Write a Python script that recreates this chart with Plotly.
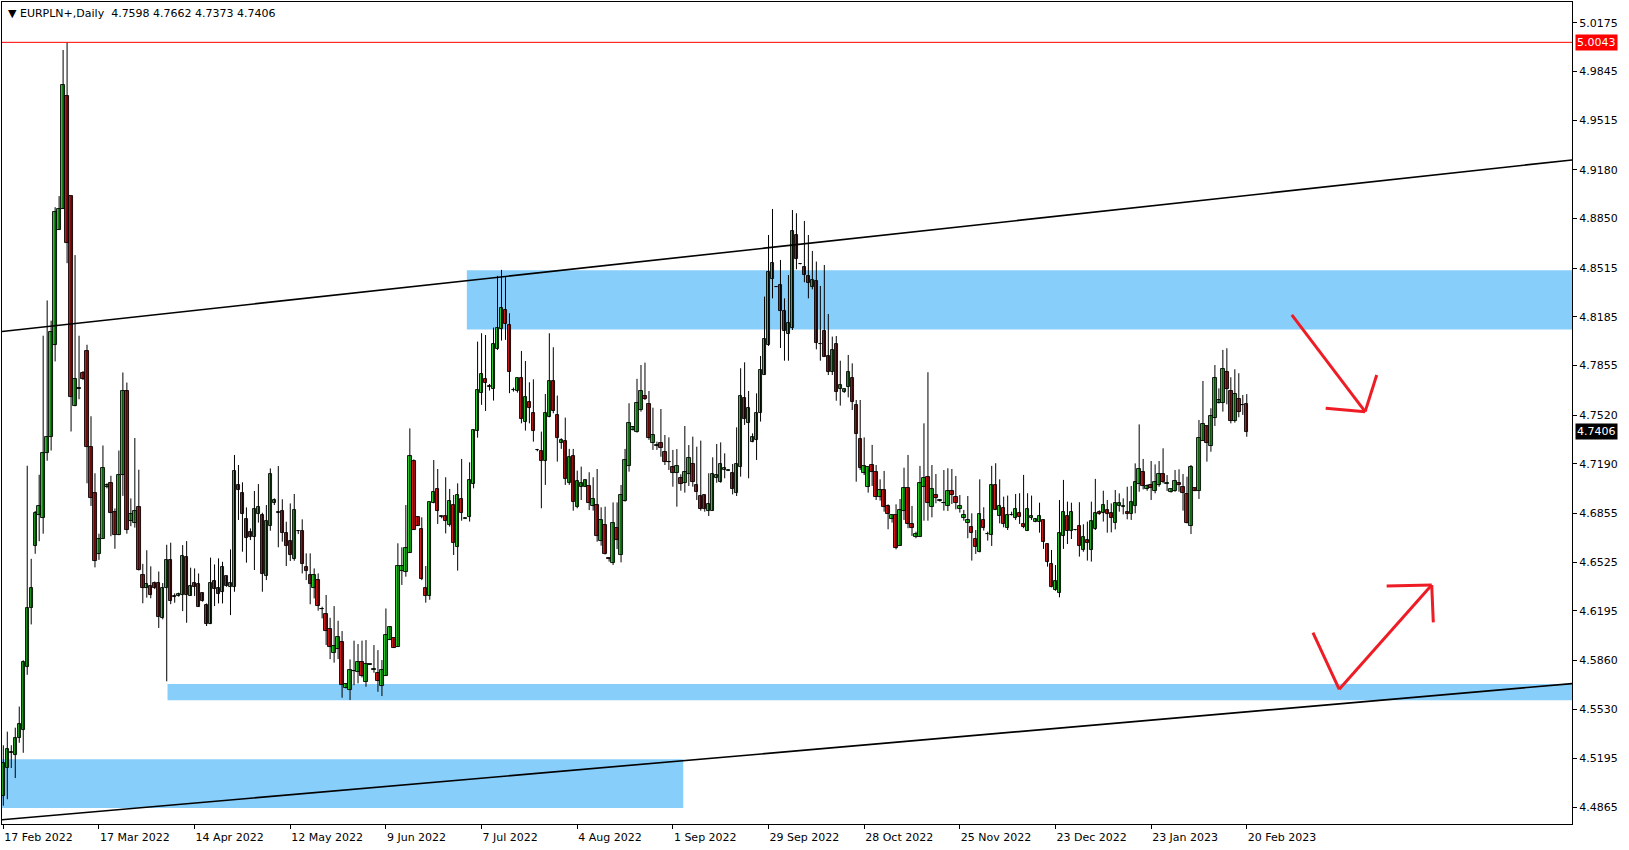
import plotly.graph_objects as go

# ---------------- data (daily bars, incl. Sunday bars) ----------------
opens = [4.4944,4.5131,4.5240,4.5217,4.5336,4.5387,4.5813,4.6212,4.6632,4.6843,
4.6826,4.7263,4.7372,4.7996,4.8773,4.8916,4.9677,4.9002,4.7580,4.7699,
4.7808,4.7955,4.7304,4.6990,4.6581,4.6683,4.7031,4.7058,4.6864,4.6707,
4.7116,4.7682,4.6802,4.6792,4.6898,4.6437,4.6349,4.6366,4.6386,4.6383,
4.6144,4.6349,4.6540,4.6293,4.6295,4.6304,4.6559,4.6297,4.6381,4.6376,
4.6313,4.6234,4.6105,4.6397,4.6347,4.6324,4.6430,4.6358,4.6354,4.7047,
4.6990,4.6814,4.6726,4.6697,4.6848,4.6843,4.6433,4.6769,4.6927,4.6859,
4.6871,4.6719,4.6667,4.6546,4.6735,4.6735,4.6489,4.6437,4.6347,4.6403,
4.6207,4.6173,4.6069,4.5911,4.5936,4.5984,4.5674,4.5659,4.5789,4.5783,
4.5846,4.5710,4.5832,4.5798,4.5771,4.5688,4.5756,4.5997,4.6008,4.5952,
4.6467,4.6460,4.6588,4.7211,4.6828,4.6749,4.6347,4.6297,4.6927,4.7020,
4.6832,4.6837,4.6776,4.6911,4.6629,4.6952,4.6821,4.6828,4.7051,4.7415,
4.7672,4.7764,4.7713,4.7695,4.7968,4.8101,4.8232,4.8130,4.7690,4.7686,
4.7769,4.7471,4.7607,4.7532,4.7284,4.7279,4.7212,4.7505,4.7751,4.7521,
4.7334,4.7345,4.7058,4.7243,4.6896,4.7036,4.7036,4.7040,4.6905,4.6911,
4.6668,4.6776,4.6550,4.6516,4.6758,4.6573,4.6941,4.7178,4.7419,4.7408,
4.7555,4.7649,4.7593,4.7328,4.7313,4.7329,4.7268,4.7200,4.7166,4.7130,
4.7092,4.7062,4.7119,4.7187,4.7047,4.6972,4.6979,4.6873,4.6873,4.7092,
4.7069,4.7148,4.7144,4.7126,4.6995,4.7171,4.7633,4.7464,4.7336,4.7351,
4.7532,4.7791,4.7995,4.8439,4.8389,4.8398,4.8227,4.8069,4.8107,4.8739,
4.8543,4.8520,4.8462,4.8385,4.8430,4.8001,4.8089,4.7920,4.7814,4.8001,
4.7694,4.7679,4.7708,4.7769,4.7588,4.7358,4.7130,4.7036,4.7182,4.7133,
4.6963,4.7013,4.6905,4.6814,4.6844,4.6636,4.6873,4.7029,4.6783,4.6697,
4.6697,4.7031,4.7099,4.6896,4.6979,4.6941,4.6923,4.6905,4.7006,4.6963,
4.6882,4.6821,4.6792,4.6760,4.6681,4.6591,4.6810,4.6713,4.6708,4.7047,
4.6839,4.6889,4.6754,4.6844,4.6826,4.6855,4.6783,4.6738,4.6821,4.6799,
4.6799,4.6810,4.6647,4.6512,4.6336,4.6313,4.6704,4.6837,4.6738,4.6742,
4.6769,4.6607,4.6675,4.6607,4.6747,4.6866,4.6855,4.6877,4.6855,4.6791,
4.6907,4.6898,4.6866,4.6848,4.6907,4.7051,4.7132,4.7017,4.7047,4.7008,
4.7047,4.7119,4.7058,4.6997,4.7006,4.7058,4.7031,4.6983,4.6771,4.7024,
4.7008,4.7347,4.7446,4.7313,4.7503,4.7600,4.7604,4.7809,4.7683,4.7482,
4.7627,4.7588,4.7598]
highs = [4.5285,4.5377,4.5285,4.5404,4.5547,4.5860,4.7177,4.6547,4.6871,4.7116,
4.8057,4.8296,4.8159,4.8927,4.9002,4.9991,5.0043,4.9002,4.8603,4.8057,
4.7818,4.7996,4.7512,4.7126,4.6717,4.7314,4.7058,4.7109,4.6888,4.7280,
4.7808,4.7740,4.6956,4.7365,4.7150,4.6513,4.6605,4.6496,4.6393,4.6461,
4.6383,4.6642,4.6656,4.6313,4.6318,4.6640,4.6667,4.6487,4.6482,4.6448,
4.6318,4.6245,4.6555,4.6509,4.6550,4.6527,4.6430,4.6611,4.7250,4.7182,
4.7065,4.6895,4.6753,4.7006,4.7053,4.6859,4.6911,4.7159,4.6956,4.7175,
4.6950,4.6798,4.6922,4.6986,4.6736,4.6814,4.6584,4.6584,4.6482,4.6448,
4.6223,4.6302,4.6148,4.6227,4.6128,4.6058,4.5704,4.5866,4.5993,4.5970,
4.5993,4.5997,4.5834,4.5963,4.5929,4.5862,4.6211,4.6092,4.6010,4.6652,
4.6625,4.6911,4.7430,4.7220,4.6830,4.6828,4.6498,4.6929,4.7216,4.7155,
4.6839,4.7099,4.7020,4.6979,4.7058,4.7223,4.6822,4.7200,4.7419,4.8017,
4.8074,4.8062,4.7731,4.8112,4.8462,4.8503,4.8453,4.8209,4.7706,4.7769,
4.7954,4.7886,4.7742,4.7762,4.7291,4.7408,4.7663,4.8074,4.7979,4.7652,
4.7363,4.7503,4.7291,4.7291,4.7144,4.7171,4.7081,4.7133,4.7099,4.7155,
4.6896,4.6900,4.6552,4.6929,4.6929,4.7047,4.7291,4.7600,4.7446,4.7765,
4.7859,4.7875,4.7683,4.7570,4.7340,4.7561,4.7385,4.7369,4.7284,4.7290,
4.7119,4.7446,4.7317,4.7374,4.7306,4.7347,4.6979,4.7126,4.7234,4.7324,
4.7335,4.7261,4.7146,4.7189,4.7437,4.7837,4.7877,4.7683,4.7396,4.7667,
4.7920,4.8322,4.8739,4.8915,4.8391,4.8570,4.8310,4.8468,4.8908,4.8886,
4.8545,4.8834,4.8739,4.8631,4.8559,4.8394,4.8536,4.8204,4.8051,4.8055,
4.7888,4.7696,4.7927,4.7870,4.7622,4.7622,4.7369,4.7167,4.7318,4.7182,
4.7085,4.7142,4.6916,4.6844,4.6916,4.6952,4.7164,4.7250,4.6905,4.6731,
4.7176,4.7464,4.7810,4.7182,4.7121,4.6952,4.7148,4.7160,4.7155,4.7108,
4.6979,4.6878,4.6972,4.6855,4.6742,4.7085,4.6896,4.6731,4.7176,4.7194,
4.7085,4.6968,4.6975,4.6866,4.6986,4.6991,4.7115,4.6991,4.6975,4.6822,
4.6927,4.6812,4.6650,4.6607,4.6505,4.6945,4.7081,4.6934,4.6927,4.6744,
4.6930,4.6781,4.6799,4.6934,4.7088,4.6875,4.7008,4.6945,4.6922,4.7013,
4.6990,4.6956,4.7035,4.7040,4.7193,4.7457,4.7223,4.7051,4.7209,4.7186,
4.7209,4.7295,4.7114,4.7019,4.7148,4.7153,4.7121,4.7103,4.7182,4.7026,
4.7487,4.7751,4.7448,4.7566,4.7859,4.7701,4.7961,4.7972,4.7776,4.7830,
4.7803,4.7656,4.7662]
lows = [4.4876,4.4920,4.5131,4.5063,4.5302,4.5234,4.5762,4.6103,4.6581,4.6666,
4.6717,4.7211,4.7280,4.7883,4.8773,4.8916,4.8548,4.7409,4.7580,4.7627,
4.7757,4.7058,4.6905,4.6489,4.6540,4.6683,4.7024,4.6700,4.6615,4.6707,
4.6973,4.6717,4.6768,4.6758,4.6468,4.6246,4.6284,4.6280,4.6342,4.6079,
4.6137,4.5718,4.6240,4.6250,4.6291,4.6193,4.6114,4.6297,4.6295,4.6223,
4.6257,4.6092,4.6105,4.6227,4.6245,4.6245,4.6358,4.6166,4.6324,4.6810,
4.6595,4.6521,4.6674,4.6471,4.6792,4.6324,4.6403,4.6737,4.6911,4.6625,
4.6663,4.6498,4.6532,4.6534,4.6715,4.6448,4.6403,4.6239,4.6279,4.6196,
4.6144,4.5963,4.5868,4.5844,4.5868,4.5607,4.5670,4.5591,4.5692,4.5704,
4.5744,4.5681,4.5830,4.5776,4.5647,4.5618,4.5756,4.5997,4.5945,4.5952,
4.6370,4.6426,4.6588,4.6742,4.6769,4.6403,4.6250,4.6270,4.6923,4.6783,
4.6821,4.6719,4.6765,4.6573,4.6467,4.6805,4.6820,4.6799,4.7024,4.7367,
4.7589,4.7548,4.7686,4.7618,4.7961,4.8024,4.8029,4.7668,4.7679,4.7672,
4.7464,4.7415,4.7464,4.7340,4.7275,4.6889,4.7047,4.7505,4.7532,4.7205,
4.7291,4.7047,4.7047,4.6873,4.6889,4.6945,4.7036,4.6877,4.6873,4.6663,
4.6636,4.6577,4.6528,4.6505,4.6613,4.6523,4.6934,4.7137,4.7415,4.7401,
4.7543,4.7622,4.7352,4.7284,4.7284,4.7238,4.7182,4.7148,4.7035,4.6900,
4.7008,4.6995,4.7040,4.7035,4.6945,4.6873,4.6866,4.6837,4.6873,4.7062,
4.7062,4.7092,4.7142,4.6983,4.6972,4.7103,4.7453,4.7092,4.7336,4.7216,
4.7476,4.7791,4.7988,4.8310,4.8387,4.7974,4.7888,4.7888,4.8096,4.8507,
4.8541,4.8419,4.8310,4.8371,4.7965,4.7888,4.7916,4.7791,4.7791,4.7617,
4.7584,4.7670,4.7640,4.7554,4.7069,4.7148,4.7114,4.6995,4.7040,4.6945,
4.6941,4.6866,4.6747,4.6792,4.6611,4.6636,4.6810,4.6754,4.6702,4.6686,
4.6697,4.6805,4.6805,4.6828,4.6923,4.6934,4.6873,4.6871,4.6918,4.6882,
4.6860,4.6805,4.6686,4.6535,4.6580,4.6591,4.6738,4.6670,4.6634,4.6877,
4.6787,4.6760,4.6742,4.6840,4.6810,4.6783,4.6754,4.6738,4.6810,4.6795,
4.6724,4.6614,4.6494,4.6354,4.6331,4.6286,4.6614,4.6647,4.6681,4.6740,
4.6562,4.6595,4.6535,4.6528,4.6742,4.6845,4.6799,4.6724,4.6726,4.6746,
4.6866,4.6848,4.6814,4.6810,4.6855,4.7001,4.7017,4.7008,4.6945,4.6990,
4.7035,4.7058,4.7006,4.6995,4.7001,4.7001,4.6873,4.6787,4.6715,4.7005,
4.6952,4.7347,4.7205,4.7272,4.7446,4.7598,4.7543,4.7593,4.7464,4.7469,
4.7505,4.7521,4.7373]
closes = [4.5165,4.5261,4.5230,4.5336,4.5428,4.5847,4.6212,4.6352,4.6854,4.6905,
4.7263,4.7372,4.8081,4.8893,4.8916,4.9752,4.8685,4.7645,4.7764,4.7702,
4.7764,4.7304,4.6956,4.6530,4.6683,4.7160,4.7048,4.6854,4.6707,4.7116,
4.7682,4.6741,4.6847,4.6871,4.6468,4.6349,4.6376,4.6301,4.6349,4.6154,
4.6352,4.6540,4.6260,4.6288,4.6309,4.6566,4.6304,4.6363,4.6358,4.6223,
4.6263,4.6105,4.6381,4.6340,4.6306,4.6489,4.6365,4.6381,4.7141,4.7013,
4.6848,4.6686,4.6697,4.6882,4.6895,4.6442,4.6803,4.7119,4.6945,4.6860,
4.6724,4.6636,4.6573,4.6877,4.6734,4.6509,4.6467,4.6374,4.6437,4.6230,
4.6206,4.6060,4.5952,4.5956,4.6015,4.5692,4.5697,4.5794,4.5790,4.5846,
4.5756,4.5832,4.5833,4.5799,4.5722,4.5794,4.6031,4.6087,4.5945,4.6498,
4.6498,4.6622,4.7243,4.6742,4.6771,4.6408,4.6297,4.6929,4.6997,4.6873,
4.6833,4.6805,4.6938,4.6656,4.6979,4.6855,4.6821,4.7081,4.7419,4.7690,
4.7796,4.7735,4.7712,4.7999,4.8108,4.8243,4.8137,4.7814,4.7691,4.7769,
4.7492,4.7640,4.7571,4.7415,4.7283,4.7212,4.7532,4.7751,4.7550,4.7367,
4.7352,4.7085,4.7234,4.6929,4.7074,4.7058,4.7081,4.6923,4.6952,4.6704,
4.6810,4.6577,4.6549,4.6787,4.6674,4.6979,4.7216,4.7464,4.7442,4.7600,
4.7683,4.7627,4.7367,4.7385,4.7313,4.7295,4.7205,4.7201,4.7130,4.7178,
4.7053,4.7132,4.7227,4.7069,4.7001,4.6882,4.6882,4.6918,4.7121,4.7114,
4.7189,4.7159,4.7144,4.7017,4.7187,4.7649,4.7491,4.7566,4.7374,4.7532,
4.7825,4.8033,4.8487,4.8547,4.8389,4.8225,4.8089,4.8141,4.8766,4.8575,
4.8543,4.8468,4.8412,4.8435,4.8006,4.8002,4.7916,4.7814,4.7961,4.7679,
4.7724,4.7694,4.7809,4.7611,4.7390,4.7164,4.7175,4.7167,4.7133,4.6963,
4.7013,4.6900,4.6848,4.6844,4.6618,4.6877,4.7029,4.6781,4.6758,4.6715,
4.7058,4.7092,4.6927,4.7018,4.6961,4.6941,4.6924,4.7006,4.6977,4.6923,
4.6905,4.6844,4.6810,4.6720,4.6625,4.6848,4.6754,4.6714,4.7047,4.6877,
4.6905,4.6781,4.6844,4.6845,4.6882,4.6828,4.6765,4.6882,4.6837,4.6817,
4.6837,4.6663,4.6528,4.6359,4.6397,4.6720,4.6862,4.6738,4.6862,4.6742,
4.6636,4.6697,4.6652,4.6803,4.6855,4.6848,4.6911,4.6851,4.6821,4.6922,
4.6922,4.6907,4.6848,4.6929,4.7069,4.7153,4.7040,4.7042,4.7029,4.7069,
4.7119,4.7069,4.7058,4.7017,4.7074,4.7047,4.6995,4.6787,4.7166,4.7008,
4.7362,4.7457,4.7329,4.7514,4.7769,4.7622,4.7830,4.7697,4.7482,4.7660,
4.7543,4.7589,4.7406]
bar_idx = list(range(len(closes)))

date_tick_pos = [0, 24, 48, 72, 96, 120, 144, 168, 192, 216, 240, 264, 288, 312]
date_tick_text = ["17 Feb 2022", "17 Mar 2022", "14 Apr 2022", "12 May 2022", "9 Jun 2022",
                  "7 Jul 2022", "4 Aug 2022", "1 Sep 2022", "29 Sep 2022", "28 Oct 2022",
                  "25 Nov 2022", "23 Dec 2022", "23 Jan 2023", "20 Feb 2023"]
price_ticks = [5.0175, 4.9845, 4.9515, 4.9180, 4.8850, 4.8515, 4.8185, 4.7855, 4.7520,
               4.7190, 4.6855, 4.6525, 4.6195, 4.5860, 4.5530, 4.5195, 4.4865]
price_tick_text = ["%.4f" % v for v in price_ticks]

X_RANGE = [-0.33, 393.6]
Y_RANGE = [4.4752, 5.0316]

# drawings (bar index, price)
zones = [  # x0, x1, y0, y1
    (116.3, X_RANGE[1], 4.8100, 4.8500),
    (41.2, X_RANGE[1], 4.5589, 4.5699),
    (X_RANGE[0], 170.6, 4.4860, 4.5190),
]
trend_lines = [
    (X_RANGE[0], 4.8086, X_RANGE[1], 4.9247),
    (X_RANGE[0], 4.4781, X_RANGE[1], 4.5702),
]
high_level = 5.0043
last_price = 4.7406
arrow_segments = [
    ((323.3, 4.8198), (341.7, 4.7543)),
    ((341.7, 4.7543), (331.8, 4.7566)),
    ((341.7, 4.7543), (344.6, 4.7791)),
    ((328.6, 4.6047), (335.2, 4.5664)),
    ((335.2, 4.5664), (358.4, 4.6370)),
    ((358.4, 4.6370), (347.1, 4.6363)),
    ((358.4, 4.6370), (358.8, 4.6117)),
]
header = "\u25BC EURPLN+,Daily  4.7598 4.7662 4.7373 4.7406"

GREEN = "#2ad42a"
RED = "#d81818"
ZONE = "#87cefa"
FONT = "DejaVu Sans"

fig = go.Figure()

# wicks
wick_x, wick_y = [], []
for i, h, l in zip(bar_idx, highs, lows):
    wick_x += [i, i, None]
    wick_y += [l, h, None]
fig.add_trace(go.Scatter(x=wick_x, y=wick_y, mode="lines",
                         line=dict(color="black", width=1),
                         hoverinfo="skip", showlegend=False))

# bodies
body_len = [max(abs(c - o), 0.00025) for o, c in zip(opens, closes)]
body_base = [min(o, c) if abs(c - o) >= 0.00025 else (o + c) / 2 - 0.000125
             for o, c in zip(opens, closes)]
body_col = [GREEN if c >= o else RED for o, c in zip(opens, closes)]
fig.add_trace(go.Bar(x=bar_idx, y=body_len, base=body_base, width=0.85,
                     marker=dict(color=body_col, line=dict(color="black", width=0.9)),
                     hoverinfo="skip", showlegend=False))

shapes = []
for x0, x1, y0, y1 in zones:
    shapes.append(dict(type="rect", xref="x", yref="y", x0=x0, x1=x1, y0=y0, y1=y1,
                       fillcolor=ZONE, line=dict(width=0), layer="below"))
shapes.append(dict(type="line", xref="x", yref="y", x0=X_RANGE[0], x1=X_RANGE[1],
                   y0=high_level, y1=high_level, line=dict(color="red", width=1)))
for x0, y0, x1, y1 in trend_lines:
    shapes.append(dict(type="line", xref="x", yref="y", x0=x0, y0=y0, x1=x1, y1=y1,
                       line=dict(color="black", width=1.6)))
for (xa, ya), (xb, yb) in arrow_segments:
    shapes.append(dict(type="line", xref="x", yref="y", x0=xa, y0=ya, x1=xb, y1=yb,
                       line=dict(color="#ee1c25", width=3)))

annotations = [
    dict(xref="paper", yref="paper", x=0.0, y=1.0, xanchor="left", yanchor="top",
         xshift=4, yshift=-3, text=header, showarrow=False,
         font=dict(family=FONT, size=11, color="black")),
    dict(xref="paper", yref="y", x=1.0, y=high_level, xanchor="left", yanchor="middle",
         xshift=3, text="%.4f" % high_level, showarrow=False, bgcolor="#ff0000",
         borderpad=1, font=dict(family=FONT, size=11, color="white")),
    dict(xref="paper", yref="y", x=1.0, y=last_price, xanchor="left", yanchor="middle",
         xshift=3, text="%.4f" % last_price, showarrow=False, bgcolor="black",
         borderpad=1, font=dict(family=FONT, size=11, color="white")),
]

fig.update_layout(
    width=1629, height=850,
    margin=dict(l=2, r=57, t=2, b=26),
    paper_bgcolor="white", plot_bgcolor="white",
    shapes=shapes, annotations=annotations,
    showlegend=False, bargap=0,
    xaxis=dict(range=X_RANGE, showgrid=False, zeroline=False,
               tickmode="array", tickvals=date_tick_pos, ticktext=date_tick_text,
               ticks="outside", ticklen=4, tickcolor="black", tickwidth=1,
               ticklabelposition="outside right", ticklabelstandoff=3,
               showline=True, linecolor="black", linewidth=1, mirror=True,
               tickfont=dict(family=FONT, size=11, color="black")),
    yaxis=dict(range=Y_RANGE, side="right", showgrid=False, zeroline=False,
               tickmode="array", tickvals=price_ticks, ticktext=price_tick_text,
               ticks="outside", ticklen=4, tickcolor="black", tickwidth=1,
               showline=True, linecolor="black", linewidth=1, mirror=True,
               tickfont=dict(family=FONT, size=11, color="black")),
)

fig.write_html("out.html", config={"displayModeBar": False},
               post_script="document.body.style.margin='0';document.body.style.overflow='hidden';")
